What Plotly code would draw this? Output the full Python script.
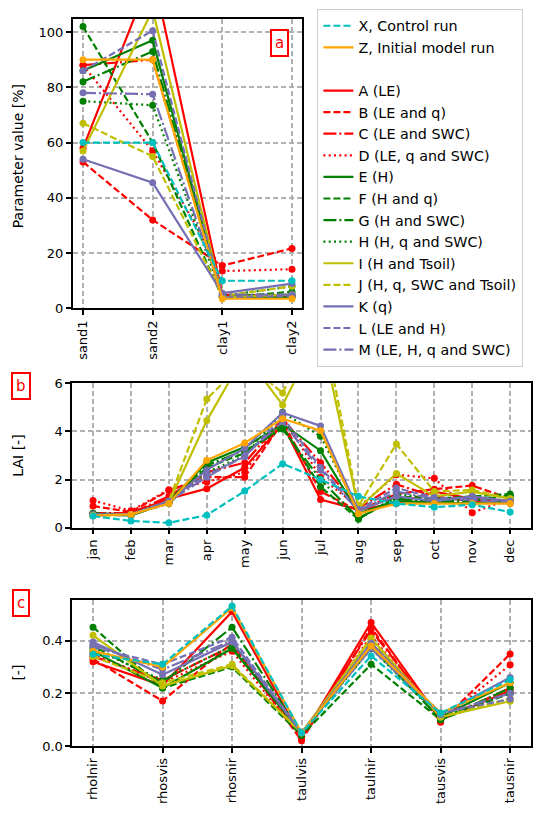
import plotly.graph_objects as go

# ---------------- data ----------------
soil_cats = ["sand1", "sand2", "clay1", "clay2"]
months = ["jan", "feb", "mar", "apr", "may", "jun", "jul", "aug", "sep", "oct", "nov", "dec"]
rad_cats = ["rholnir", "rhosvis", "rhosnir", "taulvis", "taulnir", "tausvis", "tausnir"]

names = ["X, Control run", "Z, Initial model run",
         "A (LE)", "B (LE and q)", "C (LE and SWC)", "D (LE, q and SWC)",
         "E (H)", "F (H and q)", "G (H and SWC)", "H (H, q and SWC)",
         "I (H and Tsoil)", "J (H, q, SWC and Tsoil)",
         "K (q)", "L (LE and H)", "M (LE, H, q and SWC)"]

soil_X = [60, 60, 10, 10]
soil_Z = [90, 90, 3.5, 3.5]
soil_A = [58, 122, 5, 4.5]
soil_B = [53, 32, 15.5, 21.7]
soil_C = [88, 90, 4.5, 4.5]
soil_D = [88, 57, 13.5, 14.2]
soil_E = [86, 97, 4, 4]
soil_F = [102, 60, 4, 6]
soil_G = [82, 93, 4, 5]
soil_H = [75, 73.5, 4.5, 8]
soil_I = [57, 108, 4, 5]
soil_J = [67, 55, 4.5, 8]
soil_K = [54, 45.5, 5.5, 9]
soil_L = [86, 100.5, 4, 4.5]
soil_M = [78, 77.5, 5, 5]

lai_X = [0.48, 0.28, 0.2, 0.52, 1.52, 2.66, 2.0, 1.3, 1.0, 0.85, 0.95, 0.65]
lai_Z = [0.5, 0.55, 1.0, 2.8, 3.52, 4.53, 4.03, 0.58, 1.0, 1.0, 1.0, 1.0]
lai_A = [0.55, 0.6, 1.2, 1.62, 2.5, 4.3, 1.17, 0.75, 1.0, 1.5, 1.2, 1.1]
lai_B = [0.9, 0.65, 1.55, 2.1, 2.1, 4.4, 1.5, 0.7, 1.4, 1.6, 1.75, 1.2]
lai_C = [0.6, 0.6, 1.3, 2.3, 2.7, 4.5, 2.7, 0.8, 1.8, 1.3, 1.1, 1.05]
lai_D = [1.13, 0.7, 1.58, 1.9, 2.3, 4.6, 2.1, 0.85, 2.2, 2.05, 0.62, 1.2]
lai_E = [0.55, 0.55, 1.1, 2.7, 3.35, 4.3, 3.2, 0.6, 1.1, 1.05, 1.0, 1.1]
lai_F = [0.6, 0.55, 1.0, 2.5, 3.1, 4.2, 1.7, 0.35, 1.3, 1.2, 1.3, 1.4]
lai_G = [0.55, 0.5, 1.05, 2.6, 3.2, 4.1, 2.0, 0.4, 1.2, 1.1, 1.1, 1.35]
lai_H = [0.55, 0.55, 1.1, 2.3, 3.0, 4.8, 3.8, 0.7, 1.4, 1.2, 1.2, 1.3]
lai_I = [0.5, 0.55, 1.05, 4.45, 7.2, 5.1, 8.2, 0.8, 2.25, 1.3, 1.5, 1.2]
lai_J = [0.5, 0.55, 1.1, 5.35, 6.9, 5.6, 9.0, 0.9, 3.48, 1.5, 1.57, 1.2]
lai_K = [0.55, 0.55, 1.05, 2.4, 3.3, 4.78, 4.23, 0.7, 1.3, 1.1, 1.3, 1.1]
lai_L = [0.55, 0.55, 1.1, 2.2, 2.95, 4.6, 2.5, 0.75, 1.65, 1.25, 1.2, 1.05]
lai_M = [0.5, 0.55, 1.1, 2.1, 3.0, 4.4, 2.4, 0.7, 1.5, 1.2, 1.15, 1.0]

rad_X = [0.348, 0.31, 0.531, 0.05, 0.342, 0.125, 0.252]
rad_Z = [0.36, 0.30, 0.525, 0.05, 0.38, 0.125, 0.24]
rad_A = [0.32, 0.23, 0.51, 0.03, 0.469, 0.10, 0.21]
rad_B = [0.33, 0.171, 0.39, 0.02, 0.45, 0.09, 0.349]
rad_C = [0.34, 0.25, 0.38, 0.04, 0.44, 0.10, 0.22]
rad_D = [0.35, 0.24, 0.36, 0.03, 0.42, 0.095, 0.308]
rad_E = [0.36, 0.22, 0.37, 0.05, 0.39, 0.11, 0.24]
rad_F = [0.451, 0.22, 0.30, 0.04, 0.31, 0.10, 0.20]
rad_G = [0.38, 0.24, 0.451, 0.045, 0.38, 0.10, 0.22]
rad_H = [0.37, 0.25, 0.38, 0.05, 0.37, 0.11, 0.20]
rad_I = [0.42, 0.228, 0.305, 0.05, 0.41, 0.11, 0.17]
rad_J = [0.34, 0.24, 0.31, 0.05, 0.40, 0.11, 0.18]
rad_K = [0.395, 0.27, 0.395, 0.05, 0.39, 0.12, 0.26]
rad_L = [0.375, 0.31, 0.413, 0.05, 0.38, 0.125, 0.178]
rad_M = [0.385, 0.29, 0.40, 0.05, 0.37, 0.12, 0.20]

soil = [soil_X, soil_Z, soil_A, soil_B, soil_C, soil_D, soil_E, soil_F, soil_G,
        soil_H, soil_I, soil_J, soil_K, soil_L, soil_M]
lai = [lai_X, lai_Z, lai_A, lai_B, lai_C, lai_D, lai_E, lai_F, lai_G,
       lai_H, lai_I, lai_J, lai_K, lai_L, lai_M]
rad = [rad_X, rad_Z, rad_A, rad_B, rad_C, rad_D, rad_E, rad_F, rad_G,
       rad_H, rad_I, rad_J, rad_K, rad_L, rad_M]

# ---------------- styles ----------------
RED, GRN, YEL, PUR, CYA, ORA = "#ff0000", "#008000", "#bfbf00", "#7570b3", "#00bfbf", "#ffa500"
DASH, DDOT, DOT = "7px,3px", "13px,3px,2px,3px", "2px,3.3px"
colors = [CYA, ORA, RED, RED, RED, RED, GRN, GRN, GRN, GRN, YEL, YEL, PUR, PUR, PUR]
dashes = [DASH, "solid", "solid", DASH, DDOT, DOT, "solid", DASH, DDOT, DOT,
          "solid", DASH, "solid", DASH, DDOT]

draw_order = list(range(2, 15)) + [1, 0]
FONT = "DejaVu Sans"

fig = go.Figure()
panels = [(soil_cats, soil, "x", "y"), (months, lai, "x2", "y2"), (rad_cats, rad, "x3", "y3")]
for cats, data, xa, ya in panels:
    for i in draw_order:
        fig.add_trace(go.Scatter(
            x=cats, y=data[i], xaxis=xa, yaxis=ya, mode="lines+markers",
            line=dict(color=colors[i], width=2.2, dash=dashes[i]),
            marker=dict(color=colors[i], size=7), showlegend=False, hoverinfo="skip"))

# legend-only entries
legend_order = [0, 1, None] + list(range(2, 15))
for k, i in enumerate(legend_order):
    if i is None:
        fig.add_trace(go.Scatter(x=[None], y=[None], mode="lines", name=" ",
                                 line=dict(color="rgba(0,0,0,0)", width=2),
                                 legendgroup="g%d" % k, showlegend=True,
                                 xaxis="x", yaxis="y"))
    else:
        fig.add_trace(go.Scatter(x=[None], y=[None], mode="lines", name=names[i],
                                 line=dict(color=colors[i], width=2.2, dash=dashes[i]),
                                 legendgroup="g%d" % k, showlegend=True,
                                 xaxis="x", yaxis="y"))

W, H = 533, 824

def px_x(p):
    return p / W

def px_y(p):
    return 1 - p / H

axcommon = dict(showline=True, mirror=True, linecolor="black", linewidth=1.5,
                ticks="outside", ticklen=5, tickwidth=1.5, tickcolor="black",
                showgrid=True, gridcolor="#b0b0b0", griddash="5px,3px", gridwidth=1.5,
                zeroline=False, tickfont=dict(family=FONT, size=13, color="black"))

fig.update_layout(
    width=W, height=H, margin=dict(l=0, r=0, t=0, b=0),
    paper_bgcolor="white", plot_bgcolor="white",
    font=dict(family=FONT, size=13, color="black"),
    xaxis=dict(axcommon, domain=[px_x(72.7), px_x(303)], anchor="y", type="category",
               categoryorder="array", categoryarray=soil_cats,
               range=[-0.15, 3.15], tickangle=-90),
    yaxis=dict(axcommon, domain=[px_y(307), px_y(12)], anchor="x", range=[0, 104.8],
               tickvals=[0, 20, 40, 60, 80, 100]),
    xaxis2=dict(axcommon, domain=[px_x(72.3), px_x(532)], anchor="y2", type="category",
                categoryorder="array", categoryarray=months,
                range=[-0.55, 11.55], tickangle=-90),
    yaxis2=dict(axcommon, domain=[px_y(530.3), px_y(383.3)], anchor="x2", range=[0, 6],
                tickvals=[0, 2, 4, 6]),
    xaxis3=dict(axcommon, domain=[px_x(72.3), px_x(532)], anchor="y3", type="category",
                categoryorder="array", categoryarray=rad_cats,
                range=[-0.3, 6.3], tickangle=-90),
    yaxis3=dict(axcommon, domain=[px_y(752.7), px_y(604.3)], anchor="x3", range=[0, 0.553],
                tickvals=[0, 0.2, 0.4], tickformat=".1f"),
    legend=dict(x=px_x(318), y=px_y(2), xanchor="left", yanchor="top",
                bordercolor="#cccccc", borderwidth=1, bgcolor="white",
                font=dict(family=FONT, size=14.3, color="black"),
                traceorder="grouped", tracegroupgap=0, itemwidth=30),
)

# y-axis titles (aligned as in the reference)
for txt, yc in [("Parameter value [%]", 152), ("LAI [-]", 457), ("[-]", 678)]:
    fig.add_annotation(text=txt, x=px_x(18), y=px_y(yc), xref="paper", yref="paper",
                       showarrow=False, textangle=-90, xanchor="center", yanchor="middle",
                       font=dict(family=FONT, size=14, color="black"))

for txt, x, y in [("a", 280, 37), ("b", 21, 386), ("c", 21, 607)]:
    fig.add_annotation(text=txt, x=px_x(x), y=px_y(y), xref="paper", yref="paper",
                       xanchor="center", yanchor="middle",
                       showarrow=False, font=dict(family=FONT, size=15, color="red"),
                       bordercolor="red", borderwidth=2, borderpad=3, bgcolor="white")

fig.write_html("out.html")
